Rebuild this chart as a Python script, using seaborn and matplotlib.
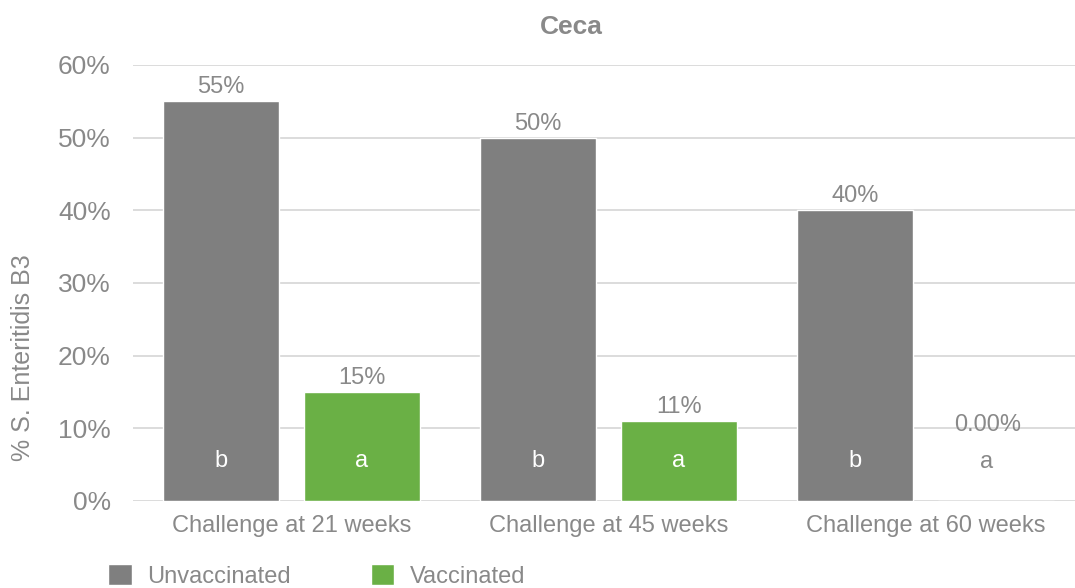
import numpy as np
import pandas as pd
import seaborn as sns
import matplotlib.pyplot as plt
from matplotlib.ticker import PercentFormatter

# Chart data
challenges = ["Challenge at 21 weeks", "Challenge at 45 weeks", "Challenge at 60 weeks"]
groups = ["Unvaccinated", "Vaccinated"]
unvaccinated = [0.55, 0.50, 0.40]
vaccinated = [0.15, 0.11, 0.0]
unvacc_letters = ["b", "b", "b"]
vacc_letters = ["a", "a", "a"]

TEXT = "#898989"
GRAY = "#7f7f7f"
GREEN = "#6ab045"

df = pd.DataFrame({
  "challenge": challenges * 2,
  "group": [groups[0]] * 3 + [groups[1]] * 3,
  "value": unvaccinated + vaccinated,
  "letter": unvacc_letters + vacc_letters,
})

sns.set_theme(style="white")
plt.rcParams['font.family'] = ['Liberation Sans', 'DejaVu Sans']

fig = plt.figure(figsize=(10.75, 5.88), dpi=100)
ax = fig.add_axes([133 / 1075, 1 - 501 / 588, 951 / 1075, (501 - 65) / 588])

sns.barplot(data=df, x="challenge", y="value", hue="group", order=challenges,
            hue_order=groups, palette=[GRAY, GREEN], width=0.89, gap=0.175,
            saturation=1, ax=ax, legend=True)

ax.set_ylim(0, 0.6)
ax.set_xlim(-0.5, 2.5)
ax.yaxis.set_major_formatter(PercentFormatter(1.0, decimals=0))
ax.set_yticks(np.arange(0, 0.61, 0.1))
ax.grid(axis="y", color="#d9d9d9", linewidth=1.3)
ax.set_axisbelow(True)
for s in ax.spines.values():
  s.set_visible(False)
ax.tick_params(axis="both", length=0, colors=TEXT)
ax.tick_params(axis="y", pad=16, labelsize=19)
ax.tick_params(axis="x", pad=10, labelsize=17)
ax.set_xlabel("")
ax.set_ylabel("% S. Enteritidis B3", fontsize=18, color=TEXT)
ax.yaxis.set_label_coords(-0.103, 0.328)
fig.text(571 / 1075, 1 - 27 / 588, "Ceca", ha="center", va="center",
         fontsize=19, fontweight="bold", color=TEXT)

# value labels and significance letters
for cont, hue in zip(ax.containers, groups):
  sub = df[df["group"] == hue].set_index("challenge").loc[challenges]
  for bar, val, let in zip(cont, sub["value"], sub["letter"]):
    cx = bar.get_x() + bar.get_width() / 2
    if val > 0:
      ax.text(cx, val + 0.004, f"{val:.0%}", ha="center", va="bottom",
              fontsize=17, color=TEXT)
      ax.text(cx, 0.055, let, ha="center", va="center", fontsize=17, color="white")
    else:
      ax.text(cx - 0.025, 0.097, f"{val:.2%}", ha="center", va="baseline",
              fontsize=17, color=TEXT)
      ax.text(cx - 0.03, 0.053, let, ha="center", va="center", fontsize=17, color=TEXT)

ax.get_legend().remove()
handles, labels = ax.get_legend_handles_labels()
fig.legend(handles, labels, loc="upper left", bbox_to_anchor=(108 / 1075, 1 - 564 / 588),
           ncol=2, frameon=False, fontsize=17, handlelength=1.0, handleheight=1.0,
           handletextpad=0.65, columnspacing=3.4, borderpad=0, borderaxespad=0,
           labelcolor=TEXT)

fig.savefig("out.png", dpi=100)
